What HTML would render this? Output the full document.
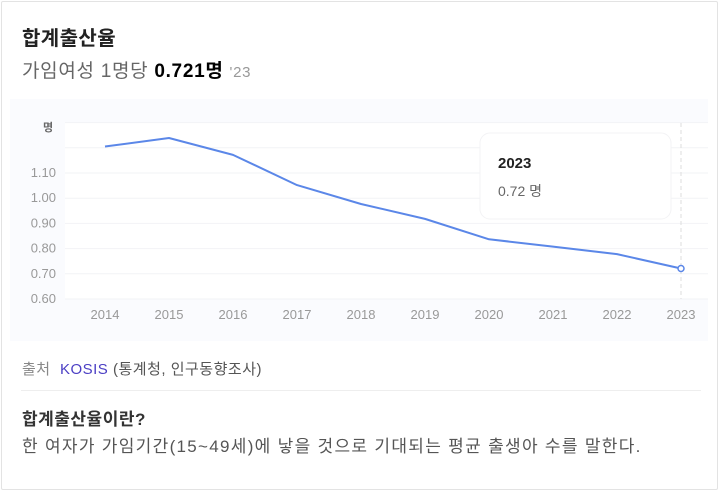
<!DOCTYPE html>
<html><head><meta charset="utf-8">
<style>
body{margin:0;width:719px;height:491px;background:#fff;font-family:"Liberation Sans","Noto Sans CJK KR",sans-serif;overflow:hidden;position:relative}
.card{position:absolute;left:1px;top:1px;width:715px;height:487px;border:1px solid #e3e3e3;border-radius:2px}
.t{position:absolute;white-space:nowrap}
</style></head><body>
<div class="t" style="left:22px;top:22px;font-size:20px;letter-spacing:0.4px;font-weight:bold;color:#222">합계출산율</div>
<div class="t" style="left:22px;top:56px;font-size:19px;letter-spacing:0.7px;color:#666">가임여성 1명당 <b style="color:#000">0.721명</b> <span style="font-size:15px;color:#999">'23</span></div>
<div class="card"></div>
<svg id="chart" style="position:absolute;left:0;top:0" width="719" height="491"></svg>
<div class="t" style="left:22px;top:358px;font-size:15px;letter-spacing:0.5px;color:#888">출처 &nbsp;<span style="color:#4b3fc4">KOSIS</span> <span style="color:#555">(통계청, 인구동향조사)</span></div>
<div style="position:absolute;left:21px;top:390px;width:680px;height:1px;background:#eee"></div>
<div class="t" style="left:22px;top:405px;font-size:17px;letter-spacing:0.5px;font-weight:bold;color:#333">합계출산율이란?</div>
<div class="t" style="left:22px;top:432px;font-size:17px;letter-spacing:1.3px;color:#555">한 여자가 가임기간(15~49세)에 낳을 것으로 기대되는 평균 출생아 수를 말한다.</div>
<script>
const years=["2014","2015","2016","2017","2018","2019","2020","2021","2022","2023"];
const values=[1.205,1.239,1.172,1.052,0.977,0.918,0.837,0.808,0.778,0.721];
const yTicks=[0.6,0.7,0.8,0.9,1.0,1.1];
const yTickLabels=["0.60","0.70","0.80","0.90","1.00","1.10"];
const NS="http://www.w3.org/2000/svg";
const svg=document.getElementById('chart');
const x=i=>105+i*64;
const y=v=>299-(v-0.6)*252;
function mk(t,a,p){const e=document.createElementNS(NS,t);for(const k in a)e.setAttribute(k,a[k]);(p||svg).appendChild(e);return e;}
const bg=mk('rect',{x:10,y:99,width:698,height:242,fill:'#fafbfe'});


const pa=mk('rect',{x:65,y:123,width:643,height:176,fill:'#fff'});


[0.6,0.7,0.8,0.9,1.0,1.1,1.2,1.3].forEach(v=>{
 const g=mk('line',{x1:65,x2:708,y1:y(v),y2:y(v),stroke:'#f2f3f6','stroke-width':1});
 
 
});
yTicks.forEach((v,i)=>{
 const t=mk('text',{x:56,y:y(v)+4,'text-anchor':'end','font-size':13,fill:'#999'});
 t.textContent=yTickLabels[i];
 
 
});
const u=mk('text',{x:48,y:131,'text-anchor':'middle','font-size':11,'font-weight':'bold',fill:'#666'});
u.textContent='명';


years.forEach((yr,i)=>{
 const t=mk('text',{x:x(i),y:319,'text-anchor':'middle','font-size':13,fill:'#999'});
 t.textContent=yr;
 
 
});
const last=years.length-1;
const cross=mk('line',{x1:x(last),x2:x(last),y1:123,y2:299,stroke:'#ddd','stroke-dasharray':'4,3'});


const line=mk('polyline',{points:values.map((v,i)=>x(i)+','+y(v)).join(' '),fill:'none',stroke:'#5b87e8','stroke-width':2,'stroke-linejoin':'round'});


const pt=mk('circle',{cx:x(last),cy:y(values[last]),r:3,fill:'#fff',stroke:'#5b87e8','stroke-width':1.5});


const tb=mk('rect',{x:480,y:133,width:191,height:86,rx:10,fill:'#fff',stroke:'#f3f3f5'});


const t1=mk('text',{x:498,y:168,'font-size':15,'font-weight':'bold',fill:'#222'});
t1.textContent=years[last];


const t2=mk('text',{x:498,y:196,'font-size':14,fill:'#666'});
t2.textContent=values[last].toFixed(2)+'  명';
t2.setAttribute('xml:space','preserve');


</script>
</body></html>
